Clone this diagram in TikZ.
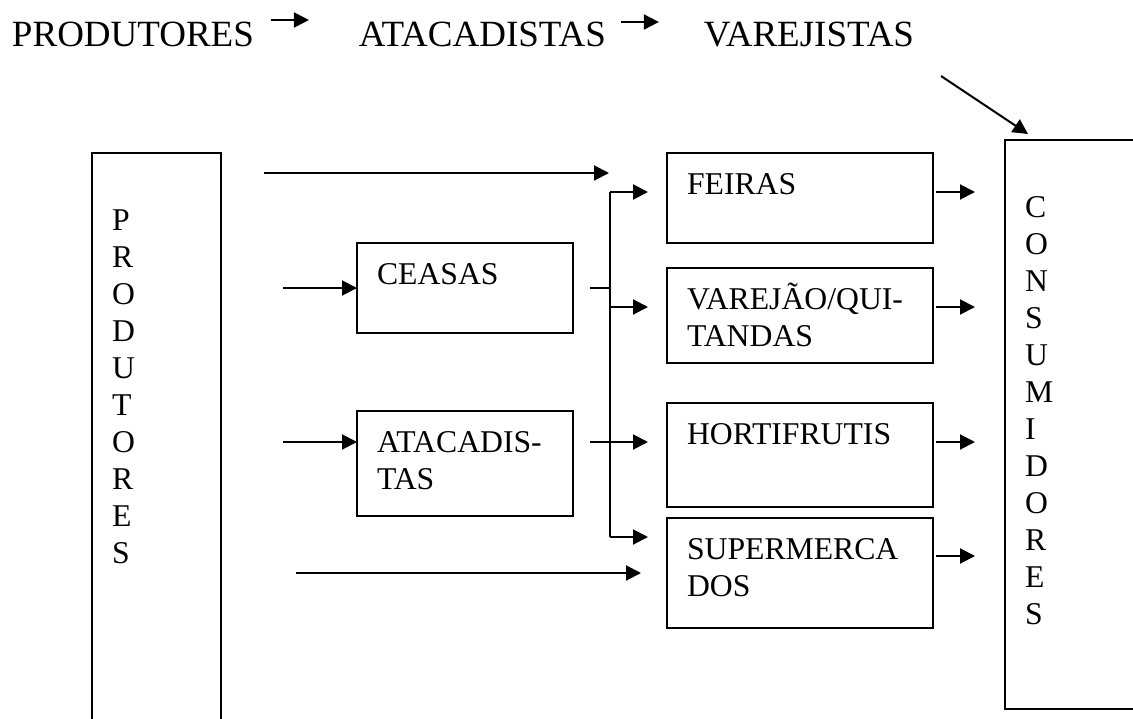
\documentclass[tikz,border=0pt]{standalone}
\usepackage{fontspec}
\setmainfont{Liberation Serif}
\usepackage{tikz}
\usetikzlibrary{arrows.meta,positioning,calc}
\newcommand{\boxfont}{\fontsize{31.7pt}{37pt}\selectfont}
\newcommand{\titlefont}{\fontsize{37pt}{43pt}\selectfont}

\begin{document}
\begin{tikzpicture}[x=1pt,y=-1pt,line width=2pt,>={Triangle[length=15pt,width=15pt]},
    every node/.style={outer sep=0pt},
    title/.style={font=\titlefont,inner sep=0pt,anchor=base west},
    box/.style={draw,font=\boxfont,align=left,anchor=north west,inner xsep=20pt,inner ysep=0pt,text height=41pt},
    mid/.style={box,text width=176pt},
    shop/.style={box,text width=226pt},
    tall/.style={box,text height=77pt}]
   \useasboundingbox (0,0) rectangle (1133,718);
   \clip (0,0) rectangle (1133,718);
   \node [title] (t_prod) at (12,46) {PRODUTORES};
   \node [title,base right=105pt of t_prod] (t_atac) {ATACADISTAS};
   \node [title,base right=98pt of t_atac] (t_varej) {VAREJISTAS};
   \node [tall,text width=89pt,text depth=510pt] (prod) at (92,153) {P\\R\\O\\D\\U\\T\\O\\R\\E\\S};
   \node [tall,text width=100pt,text depth=492pt] (cons) at (1005,140) {C\\O\\N\\S\\U\\M\\I\\D\\O\\R\\E\\S};
   \node [mid,text depth=49pt] (ceasas) at (357,243) {CEASAS};
   \node [mid,text depth=64pt,below=78pt of ceasas] (atac) {ATACADIS-\\TAS};
   \node [shop,text depth=49pt] (feiras) at (667,153) {FEIRAS};
   \node [shop,text depth=54pt,below=25pt of feiras] (varejao) {VAREJÃO/QUI-\\TANDAS};
   \node [shop,text depth=63pt,below=40pt of varejao] (hort) {HORTIFRUTIS};
   \node [shop,text depth=69pt,below=11pt of hort] (super) {SUPERMERCA\\DOS};
   \coordinate (bus_top) at ($(feiras.north west)+(-57,39)$);
   \coordinate (bus_bot) at ($(super.north west)+(-57,19)$);
   \draw[->] ($(t_prod.base east)+(17,-26)$) -- ($(t_atac.base west)+(-50,-26)$);
   \draw[->] ($(t_atac.base east)+(15,-24)$) -- ($(t_varej.base west)+(-45,-24)$);
   \draw[->] ($(t_varej.base east)+(27,30)$) -- ($(cons.north west)+(23,-6)$);
   \draw[->] ($(prod.north east)+(43,20)$) -- ($(feiras.north west)+(-58,20)$);
   \draw[->] ($(ceasas.west)+(-74,0)$) -- (ceasas.west);
   \draw[->] ($(atac.north west)+(-74,31)$) -- ($(atac.north west)+(0,31)$);
   \draw[->] ($(prod.east |- super.west)+(75,0)$) -- ($(super.west)+(-26,0)$);
   \draw ($(ceasas.east)+(17,0)$) -- (bus_top |- ceasas.east);
   \draw (bus_top) -- (bus_bot);
   \draw[->] (bus_top) -- ($(feiras.north west)+(-19,39)$);
   \draw[->] ($(varejao.north west)+(-57,39)$) -- ($(varejao.north west)+(-19,39)$);
   \draw[->] ($(atac.north east)+(17,31)$) -- ($(hort.north west)+(-19,39)$);
   \draw[->] (bus_bot) -- ($(super.north west)+(-19,19)$);
   \foreach \shopname/\dy in {feiras/39,varejao/39,hort/39,super/38}
     \draw[->] ($(\shopname.north east)+(3,\dy)$) -- ($(cons.west |- \shopname.north east)+(-30,\dy)$);
\end{tikzpicture}
\end{document}
